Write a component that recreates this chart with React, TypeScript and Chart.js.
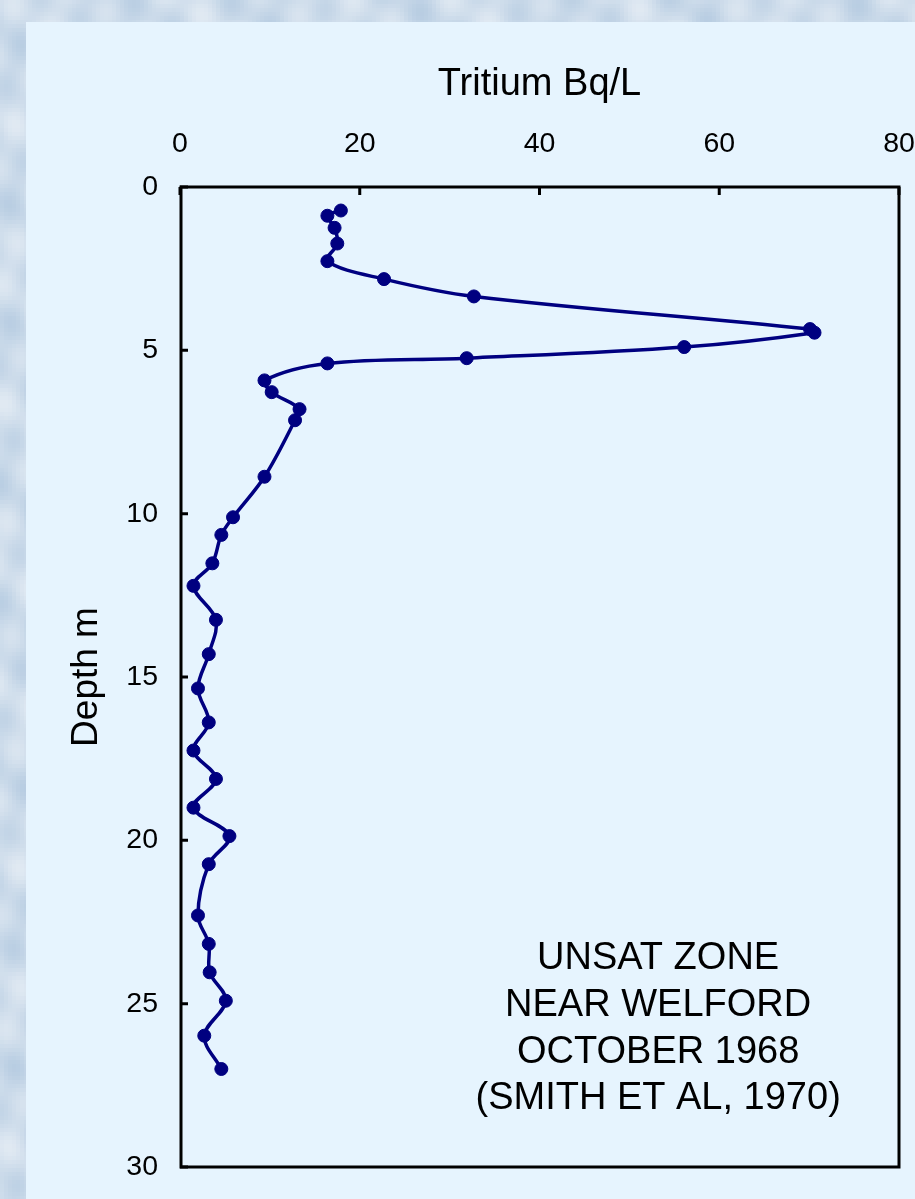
import React, { useEffect, useRef } from "react";
import { Chart, registerables } from "chart.js";

Chart.register(...registerables);

// ---- data ----
const depthM = [
  0.72, 0.88, 1.25, 1.73, 2.27, 2.82, 3.35, 4.35, 4.46, 4.9, 5.24, 5.4, 5.92,
  6.28, 6.8, 7.14, 8.87, 10.11, 10.65, 11.52, 12.21, 13.25, 14.3, 15.35, 16.39,
  17.25, 18.12, 19.0, 19.87, 20.73, 22.3, 23.17, 24.04, 24.91, 25.98, 27.0,
];
const tritiumBqL = [
  17.9, 16.4, 17.2, 17.5, 16.4, 22.7, 32.7, 70.1, 70.6, 56.1, 31.9, 16.4, 9.4,
  10.2, 13.3, 12.8, 9.4, 5.9, 4.6, 3.6, 1.5, 4.0, 3.2, 2.0, 3.2, 1.5, 4.0, 1.5,
  5.5, 3.2, 2.0, 3.2, 3.3, 5.1, 2.7, 4.6,
];
const xAxisRange = [0, 80];
const xTickStep = 20;
const yAxisRange = [0, 30];
const yTickStep = 5;
const xAxisTitle = "Tritium Bq/L";
const yAxisTitle = "Depth m";
const annotationLines = [
  "UNSAT ZONE",
  "NEAR WELFORD",
  "OCTOBER 1968",
  "(SMITH ET AL, 1970)",
];

const FONT = "'Liberation Sans', Arial, Helvetica, sans-serif";
const NAVY = "#000080";

const decorPlugin = {
  id: "decor",
  beforeDraw(chart: any) {
    const { ctx, width, height } = chart;
    ctx.save();
    ctx.fillStyle = "#d3e2f0";
    ctx.fillRect(0, 0, width, height);
    // mottled frame texture (deterministic)
    const cell = 4;
    for (let y = 0; y < height; y += cell) {
      for (let x = 0; x < width; x += cell) {
        if (x >= 26 && y >= 22) continue;
        const v =
          Math.sin(x * 0.13 + y * 0.05) * 0.5 +
          Math.cos(x * 0.07 - y * 0.11) * 0.5 +
          Math.sin((x - y) * 0.043) * 0.4;
        const l = 86 + v * 4;
        ctx.fillStyle = `hsl(210, 42%, ${l}%)`;
        ctx.fillRect(x, y, cell, cell);
      }
    }
    ctx.fillStyle = "#e6f4fe";
    ctx.fillRect(26, 22, width - 26, height - 22);
    ctx.restore();
  },
  beforeDatasetsDraw(chart: any) {
    const { ctx, chartArea: a, scales } = chart;
    ctx.save();
    ctx.strokeStyle = "#000";
    ctx.lineWidth = 3;
    ctx.lineCap = "butt";
    ctx.strokeRect(a.left + 1, a.top, a.right - a.left - 1, a.bottom - a.top);
    const tickLen = 8;
    ctx.beginPath();
    scales.x.ticks.forEach((t: any) => {
      const px = scales.x.getPixelForValue(t.value);
      ctx.moveTo(px, a.top);
      ctx.lineTo(px, a.top + tickLen);
    });
    scales.y.ticks.forEach((t: any) => {
      const py = scales.y.getPixelForValue(t.value);
      ctx.moveTo(a.left, py);
      ctx.lineTo(a.left + tickLen, py);
    });
    ctx.stroke();

    // annotation block
    ctx.fillStyle = "#000";
    ctx.font = `38px ${FONT}`;
    ctx.textAlign = "center";
    ctx.textBaseline = "alphabetic";
    const cx = a.left + (a.right - a.left) * 0.665;
    const firstBaseline = a.bottom - 198;
    const lineStep = 46.8;
    annotationLines.forEach((line, i) => {
      ctx.fillText(line, cx, firstBaseline + i * lineStep);
    });
    ctx.restore();
  },
};

export default function App() {
  const canvasRef = useRef<HTMLCanvasElement | null>(null);

  useEffect(() => {
    const canvas = canvasRef.current;
    if (!canvas) return;
    const points = depthM.map((d, i) => ({ x: tritiumBqL[i], y: d }));
    const chart = new Chart(canvas, {
      type: "scatter",
      data: {
        datasets: [
          {
            data: points,
            showLine: true,
            borderColor: NAVY,
            borderWidth: 3.5,
            backgroundColor: NAVY,
            pointBackgroundColor: NAVY,
            pointBorderColor: NAVY,
            pointBorderWidth: 1,
            pointRadius: 6.5,
            tension: 0.35,
          },
        ],
      },
      options: {
        animation: false,
        responsive: false,
        devicePixelRatio: 1,
        layout: { padding: { left: 0, top: 0, right: 16, bottom: 32 } },
        plugins: {
          legend: { display: false },
          tooltip: { enabled: false },
        },
        scales: {
          x: {
            type: "linear",
            position: "top",
            min: xAxisRange[0],
            max: xAxisRange[1],
            grid: { display: false, drawTicks: false },
            border: { display: false },
            ticks: {
              stepSize: xTickStep,
              color: "#000",
              padding: 26,
              maxRotation: 0,
              font: { family: FONT, size: 28.5, lineHeight: 1.2 },
            },
            title: {
              display: true,
              text: xAxisTitle,
              color: "#000",
              padding: { top: 62, bottom: 0 },
              font: { family: FONT, size: 38, lineHeight: 1.2 },
            },
            afterFit(scale: any) {
              scale.height = 187;
              scale.paddingLeft = 0;
              scale.paddingRight = 0;
            },
          },
          y: {
            type: "linear",
            position: "left",
            reverse: true,
            min: yAxisRange[0],
            max: yAxisRange[1],
            grid: { display: false, drawTicks: false },
            border: { display: false },
            ticks: {
              stepSize: yTickStep,
              color: "#000",
              padding: 22,
              font: { family: FONT, size: 28.5, lineHeight: 1.2 },
            },
            title: {
              display: true,
              text: yAxisTitle,
              color: "#000",
              padding: { top: 65, bottom: 0 },
              font: { family: FONT, size: 37, lineHeight: 1.2 },
            },
            afterFit(scale: any) {
              scale.width = 180;
              scale.paddingTop = 0;
              scale.paddingBottom = 0;
            },
          },
        },
      },
      plugins: [decorPlugin],
    } as any);
    return () => chart.destroy();
  }, []);

  return (
    <div style={{ position: "absolute", left: 0, top: 0, width: 915, height: 1199 }}>
      <canvas ref={canvasRef} width={915} height={1199} style={{ display: "block" }} />
    </div>
  );
}
